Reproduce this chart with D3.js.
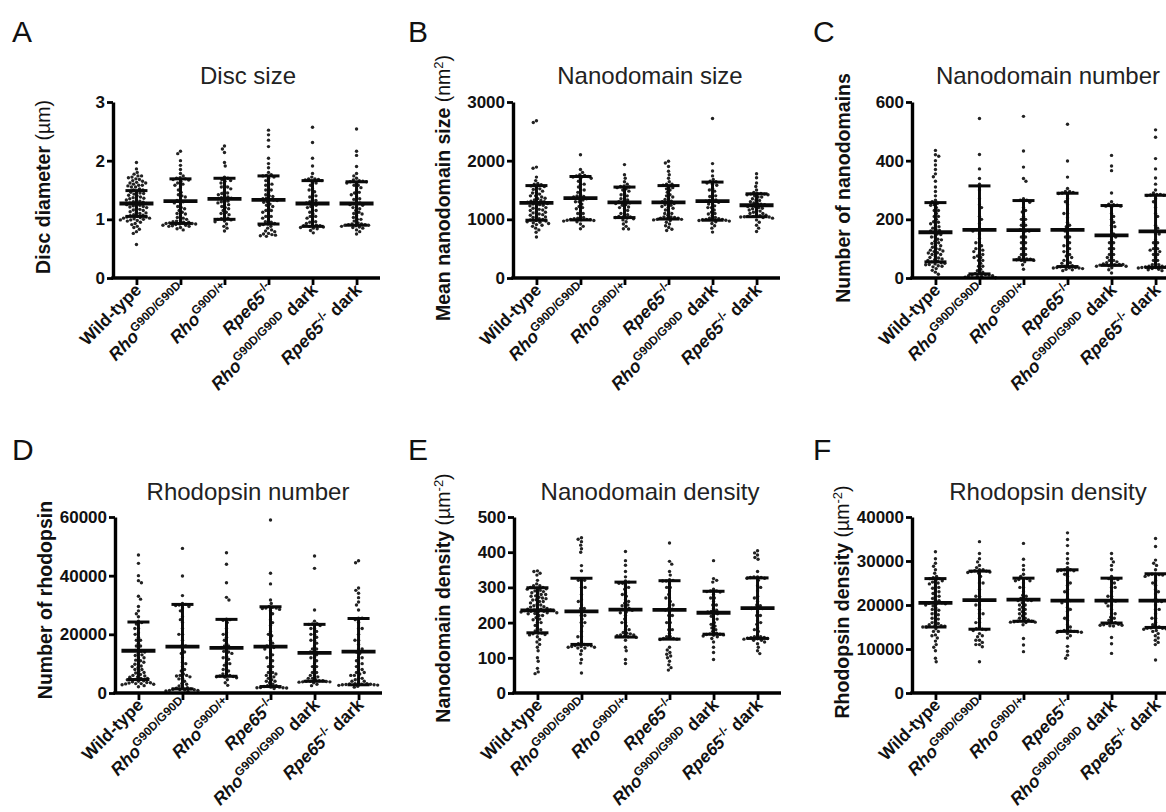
<!DOCTYPE html>
<html><head><meta charset="utf-8">
<script src="https://cdn.jsdelivr.net/npm/d3@7"></script>
<style>body{margin:0;background:#fff}svg{display:block;font-family:"Liberation Sans",Arial,sans-serif}</style>
</head><body><svg id="c" width="1166" height="812"></svg>
<script>
// ---------- categories ----------
const categories = ["Wild-type","RhoG90D/G90D","RhoG90D/+","Rpe65-/-","RhoG90D/G90D dark","Rpe65-/- dark"];
const categoryParts = [
  [{t:"Wild-type"}],
  [{t:"Rho",i:1},{t:"G90D/G90D",s:1}],
  [{t:"Rho",i:1},{t:"G90D/+",s:1}],
  [{t:"Rpe65",i:1},{t:"-/-",s:1}],
  [{t:"Rho",i:1},{t:"G90D/G90D",s:1},{t:" dark"}],
  [{t:"Rpe65",i:1},{t:"-/-",s:1},{t:" dark"}]
];

// ---------- A: disc diameter (µm) ----------
const discTicks = [0,1,2,3];
const discMean = [1.27,1.31,1.35,1.33,1.27,1.27];
const discSD = [0.22,0.38,0.35,0.41,0.39,0.37];
const discValues = [
 [1.97,1.86,1.80,1.77,1.74,1.72,1.71,1.69,1.66,1.65,1.63,1.62,1.60,1.58,1.57,1.55,1.52,1.50,1.47,1.45,1.43,1.41,1.38,1.37,1.35,1.33,1.31,1.30,1.28,1.27,1.25,1.24,1.22,1.21,1.19,1.17,1.15,1.13,1.12,1.10,1.08,1.07,1.05,1.04,1.03,1.02,1.01,0.99,0.98,0.97,0.95,0.93,0.91,0.88,0.86,0.83,0.79,0.76,0.57,
  1.58,1.55,1.50,1.46,1.40,1.36,1.33,1.29,1.26,1.23,1.20,1.16,1.11,1.06,1.04,1.02,1.00,0.99,1.44,1.62,1.68,1.74],
 [2.16,2.12,2.00,1.92,1.85,1.78,1.74,1.71,1.69,1.67,1.65,1.62,1.58,1.55,1.50,1.46,1.42,1.38,1.34,1.30,1.26,1.22,1.18,1.15,1.12,1.09,1.06,1.03,1.00,0.98,0.96,0.95,0.94,0.93,0.92,0.91,0.90,0.89,0.88,0.86,0.84,0.82,
  1.70,1.68,1.60,1.40,1.32,1.28,1.20,1.10,1.02,0.97,0.95,0.93,0.92,0.90,0.88],
 [2.25,2.20,2.14,1.97,1.91,1.72,1.68,1.65,1.62,1.58,1.55,1.52,1.48,1.45,1.42,1.40,1.37,1.35,1.33,1.30,1.28,1.25,1.22,1.18,1.15,1.12,1.08,1.04,1.01,0.99,0.96,0.92,0.88,0.85,0.80,
  1.70,1.66,1.55,1.44,1.38,1.36,1.31,1.26,1.20,1.10,1.02,1.00,0.97],
 [2.52,2.44,2.35,2.24,2.04,1.95,1.88,1.80,1.76,1.74,1.70,1.66,1.62,1.58,1.54,1.50,1.46,1.42,1.39,1.36,1.34,1.32,1.29,1.26,1.22,1.19,1.15,1.12,1.09,1.05,1.02,0.99,0.96,0.93,0.91,0.88,0.85,0.82,0.79,0.76,0.74,0.72,0.71,
  1.75,1.72,1.60,1.50,1.40,1.35,1.33,1.30,1.24,1.15,1.05,0.95,0.92,0.90,0.80,0.75,0.73],
 [2.57,2.31,2.04,1.91,1.78,1.72,1.69,1.68,1.66,1.63,1.58,1.52,1.47,1.42,1.38,1.34,1.30,1.27,1.24,1.20,1.16,1.12,1.09,1.05,1.02,0.99,0.96,0.93,0.91,0.89,0.88,0.86,0.84,0.81,0.77,
  1.69,1.67,1.62,1.50,1.40,1.32,1.28,1.22,1.15,1.05,0.95,0.90,0.89,0.87,0.85],
 [2.54,2.16,2.09,1.90,1.78,1.74,1.70,1.67,1.65,1.64,1.62,1.58,1.54,1.50,1.46,1.42,1.38,1.34,1.30,1.27,1.24,1.21,1.18,1.15,1.12,1.09,1.06,1.03,1.00,0.97,0.94,0.92,0.91,0.90,0.89,0.87,0.85,0.82,0.79,0.75,
  1.66,1.64,1.63,1.58,1.45,1.35,1.28,1.25,1.20,1.10,1.00,0.92,0.91,0.90,0.88,0.86]
];

// ---------- B: mean nanodomain size (nm²) ----------
const sizeTicks = [0,1000,2000,3000];
const sizeMean = [1280,1360,1290,1290,1310,1240];
const sizeSD = [295,370,260,285,325,195];
const sizeValues = [
 [2680,2650,1890,1870,1720,1660,1610,1590,1570,1540,1510,1480,1460,1430,1400,1380,1350,1330,1310,1290,1270,1250,1230,1210,1190,1170,1150,1130,1110,1090,1070,1050,1030,1010,990,970,950,930,910,880,850,820,780,700,
  1600,1560,1520,1450,1400,1360,1320,1300,1280,1260,1240,1200,1160,1120,1080,1040,1000,980,960,940,900],
 [2100,1850,1800,1760,1740,1720,1700,1650,1600,1550,1500,1460,1420,1390,1360,1330,1300,1260,1220,1180,1140,1100,1060,1030,1010,1000,990,980,960,920,880,840,
  1750,1730,1700,1600,1500,1400,1380,1350,1300,1200,1100,1020,1000,995,985,970],
 [1933,1760,1700,1640,1600,1570,1550,1520,1480,1440,1400,1360,1330,1300,1270,1240,1210,1180,1150,1110,1080,1050,1030,1010,990,960,920,880,840,835,
  1560,1540,1500,1420,1350,1300,1280,1250,1200,1100,1050,1040,1020],
 [1990,1960,1900,1820,1760,1700,1640,1600,1580,1540,1500,1460,1420,1380,1340,1310,1280,1250,1220,1190,1160,1130,1100,1070,1040,1020,1010,1000,980,950,920,890,860,830,810,
  1600,1560,1520,1400,1350,1300,1270,1240,1200,1100,1040,1030,1020,1000,990],
 [2720,1950,1825,1740,1680,1650,1620,1580,1530,1480,1430,1390,1350,1320,1290,1260,1230,1200,1160,1120,1090,1060,1030,1010,1000,990,980,960,930,890,850,782,
  1640,1600,1500,1400,1330,1310,1280,1200,1100,1020,1000,995,985,970],
 [1776,1708,1620,1560,1500,1460,1440,1430,1420,1400,1380,1350,1320,1300,1280,1260,1240,1220,1200,1180,1160,1140,1120,1100,1080,1060,1050,1040,1030,1020,990,950,900,850,792,
  1440,1430,1420,1380,1330,1270,1250,1220,1190,1150,1100,1070,1050,1045,1040]
];

// ---------- C: number of nanodomains ----------
const numTicks = [0,200,400,600];
const numMean = [156,164,163,164,145,159];
const numSD = [101,150,101,125,102,123];
const numValues = [
 [435,420,415,400,385,370,355,345,330,310,295,280,265,255,248,240,230,220,210,200,192,185,178,170,162,155,148,140,132,125,118,112,105,98,92,86,80,74,68,62,56,50,46,42,38,32,26,20,13,
  260,250,230,210,190,175,165,160,150,140,130,120,110,100,95,90,85,80,70,65,60,55,52,48,45,40],
 [544,421,372,339,300,270,240,210,185,170,165,150,135,120,110,100,95,90,80,75,70,60,50,40,30,20,15,10,8,5,3,1,
  320,250,200,165,160,120,100,85,70,60,40,25,15,12,10,8,5],
 [551,433,378,339,330,265,258,240,225,210,200,190,180,170,160,150,140,130,120,110,100,90,80,70,64,60,55,45,30,
  270,265,230,200,180,165,160,140,120,100,80,70,65,62,60],
 [524,399,344,305,295,290,285,270,250,235,220,205,190,175,160,150,140,130,120,110,100,90,80,70,60,52,45,40,36,34,32,30,28,25,
  295,292,288,260,220,180,165,140,110,90,75,60,50,42,38,36,35,34],
 [418,382,366,290,260,250,245,240,220,200,190,175,160,145,130,120,110,100,90,80,70,60,55,50,46,44,42,40,35,28,17,
  252,248,245,210,180,150,140,120,100,80,70,60,52,48,46,45,40],
 [505,480,407,372,341,320,300,290,285,282,280,270,240,210,180,150,130,120,110,100,95,90,80,70,60,50,45,40,38,36,34,32,30,28,25,
  285,283,281,260,220,170,150,120,100,90,80,60,45,40,38,36,35,34]
];

// ---------- D: number of rhodopsin ----------
const rhoNumTicks = [0,20000,40000,60000];
const rhoNumMean = [14400,15800,15400,15800,13700,14100];
const rhoNumSD = [9800,14400,9700,13600,9700,11300];
const rhoNumValues = [
 [47050,44200,40000,38300,37600,33000,32000,29500,28000,27000,26000,24500,23500,22000,20500,19000,18000,17000,16000,15000,14200,13500,12800,12000,11200,10500,9800,9200,8600,8000,7400,6800,6300,5800,5400,5000,4600,4200,3800,3500,3200,3000,2800,2500,2150,
  24000,22000,20000,18000,16000,14500,14000,13000,12000,11000,10000,9000,8000,7000,6000,5500,5000,4500,4000,3600,3400,3200,3100],
 [49300,39900,33200,30000,29500,29000,28000,26000,24000,22000,20000,18000,16500,15000,13500,12000,10500,9000,7500,6500,6000,5500,4800,4000,3200,2400,1800,1400,1100,900,700,500,
  30500,30200,29800,25000,20000,16000,14000,10000,8000,6000,5800,5000,3000,2000,1600,1300,1200,1000,900],
 [47800,43900,37600,32600,31700,25000,24000,22000,20500,19000,18000,17000,16000,15000,14200,13500,12500,11500,10500,9500,8500,7500,6500,6000,5600,5200,4500,3500,2600,
  25200,24800,20000,16000,15500,14000,12000,10000,8000,6500,5800,5500,5400],
 [59000,40800,37200,31700,30500,29500,29000,28500,27000,25000,23000,21000,19500,18000,17000,16000,15000,14000,13000,12000,11000,10000,9000,8000,7000,6500,6000,5500,5000,4500,4000,3500,3000,2500,2000,1800,1500,
  29200,29000,28800,28000,24000,20000,16000,15500,12000,9000,7000,6000,4000,2500,2200,2000,1900,1800,1700],
 [46700,42500,28300,24500,23500,23000,22000,21000,20000,19000,18000,17000,16000,15000,14000,13000,12000,11000,10000,9000,8000,7000,6000,5500,5000,4500,4200,4000,3800,3500,3000,2500,
  23600,23400,22000,20000,18000,15000,14000,12000,9000,7000,6000,5000,4200,4000,3900,3800,3700],
 [45100,44400,35800,35000,34000,32500,31000,30000,28300,25500,24000,22000,20000,18000,16500,15000,13500,12000,11000,10000,9000,8000,7000,6500,6000,5000,4500,4000,3500,3200,3000,2800,2600,2300,2000,
  25500,25000,22000,18000,15000,14000,12000,10000,8000,7000,6000,5000,4000,3200,3100,3000,2900,2800,2700]
];

// ---------- E: nanodomain density (µm⁻²) ----------
const ndDensTicks = [0,100,200,300,400,500];
const ndDensMean = [235,232,237,236,228,241];
const ndDensSD = [64,94,78,83,61,86];
const ndDensValues = [
 [347,345,340,335,320,310,305,300,296,292,288,284,280,276,272,268,264,260,256,252,248,244,240,238,236,234,232,230,228,225,220,214,208,200,192,184,176,170,166,160,152,145,138,130,120,100,90,70,60,55,
  305,300,298,295,290,285,280,275,270,265,260,250,245,240,238,236,234,232,230,228,226,220,210,200,180,170,168,165],
 [441,437,430,420,410,400,362,347,320,300,280,265,250,240,230,220,210,200,190,175,160,145,138,135,132,130,128,120,110,95,85,57,
  325,320,300,260,240,232,220,200,160,140,136,134,132,130,128],
 [402,376,363,345,330,318,312,305,295,285,275,265,255,248,240,235,228,220,210,200,190,180,172,168,165,162,158,150,130,120,95,84,
  315,312,300,280,260,250,240,237,230,200,180,170,165,163,160],
 [426,374,366,345,335,322,318,310,300,290,280,270,260,250,240,230,220,210,200,190,180,170,160,155,152,130,122,115,110,105,100,90,80,72,65,
  320,318,300,270,250,238,236,220,200,180,160,155,153],
 [376,325,320,315,295,290,287,280,270,260,250,240,232,225,218,210,200,195,185,175,170,167,165,162,155,145,130,115,95,
  290,288,270,250,235,230,225,210,190,180,168,166,164,160],
 [404,398,392,385,380,345,330,328,326,320,305,290,275,260,248,240,230,220,205,195,185,175,165,160,157,155,153,150,145,140,130,120,112,
  330,328,326,300,270,250,241,240,220,200,180,160,158,156,154,150]
];

// ---------- F: rhodopsin density (µm⁻²) ----------
const rhoDensTicks = [0,10000,20000,30000,40000];
const rhoDensMean = [20500,21100,21200,21000,21000,21000];
const rhoDensSD = [5500,6600,4900,7000,5100,6100];
const rhoDensValues = [
 [32100,30500,29500,28800,28000,27200,26500,26000,25600,25200,24800,24300,23800,23200,22600,22000,21500,21000,20600,20200,19800,19300,18800,18300,17800,17300,16800,16300,15800,15400,15000,14600,14000,13200,12500,11800,11000,10400,9600,7900,7100,
  26200,26000,25500,25000,24000,23000,22000,21000,20500,20400,20300,20000,19000,18000,17000,16000,15500,15300,15200,15000,14000,13000],
 [34400,31700,30500,29800,29000,28500,28000,27700,27500,27200,26500,25000,23500,22000,21000,20000,19000,18000,17000,16000,15000,14500,14200,13500,12800,12000,11500,11000,10500,7100,
  28000,27800,27600,27400,25000,22000,21100,20000,18000,16000,14600,14400,13000,12000,11000],
 [34000,30400,29000,28000,27000,26500,26000,25500,25000,24000,23000,22200,21500,21000,20500,20000,19500,19000,18500,18000,17500,17000,16600,16300,16100,16000,15500,12400,10900,9400,
  26000,25800,25500,24000,22000,21200,21100,21000,20000,19000,18000,17000,16400,16300,16200,16100],
 [36400,34900,33500,31700,30500,29500,28500,28000,27800,27500,26500,25500,24500,23500,22500,21500,20500,19500,18500,17500,16500,15500,14500,14200,14000,13800,13500,12500,10600,9500,8600,7900,
  28000,27900,27700,27000,25000,23000,21000,20900,19000,17000,15000,14100,14000,13900,13800,13000],
 [31700,30500,29800,29000,28000,26500,26000,25500,25000,24000,23000,22000,21200,20500,19800,19000,18000,17200,16500,16000,15800,15600,15400,15200,12600,11200,9000,
  26000,25800,24000,22000,21000,20900,20000,18000,17000,16000,15500,15400,15300],
 [35100,33300,30200,29500,29000,28000,27000,26800,26500,25500,24500,23500,22500,21500,20800,20000,19000,18000,17000,16000,15500,15000,14700,14500,14200,13500,13000,12500,12000,11500,11000,7500,
  27000,26900,26800,25000,23000,21000,20900,19000,17000,15000,14800,14700,14600,14500,14000]
];

// ---------- panel text ----------
const panelLetters = ["A","B","C","D","E","F"];
const panelTitles = ["Disc size","Nanodomain size","Nanodomain number","Rhodopsin number","Nanodomain density","Rhodopsin density"];
const yLabels = [
  [{t:"Disc diameter "},{t:"(\u00b5m)",n:1}],
  [{t:"Mean nanodomain size "},{t:"(nm",n:1},{t:"2",s:1,n:1},{t:")",n:1}],
  [{t:"Number of nanodomains"}],
  [{t:"Number of rhodopsin"}],
  [{t:"Nanodomain density "},{t:"(\u00b5m",n:1},{t:"-2",s:1,n:1},{t:")",n:1}],
  [{t:"Rhodopsin density "},{t:"(\u00b5m",n:1},{t:"-2",s:1,n:1},{t:")",n:1}]
];

// ---------- layout (positions only) ----------
const W = 265, H = 176;
const layout = [
  {ax:113, y0:278, lx:12,  ly:42,  tx:248,  ty:84,  yx:43,  yy:187},
  {ax:513, y0:278, lx:408, ly:42,  tx:650,  ty:84,  yx:443, yy:188},
  {ax:912, y0:278, lx:813, ly:42,  tx:1048, ty:84,  yx:843, yy:188},
  {ax:115, y0:693, lx:12,  ly:460, tx:248,  ty:500, yx:45,  yy:600},
  {ax:514, y0:693, lx:408, ly:460, tx:650,  ty:500, yx:443, yy:598},
  {ax:912, y0:693, lx:813, ly:460, tx:1048, ty:500, yx:842, yy:602}
];
const panelData = [
  {vals:discValues, mean:discMean, sd:discSD, ticks:discTicks},
  {vals:sizeValues, mean:sizeMean, sd:sizeSD, ticks:sizeTicks},
  {vals:numValues, mean:numMean, sd:numSD, ticks:numTicks},
  {vals:rhoNumValues, mean:rhoNumMean, sd:rhoNumSD, ticks:rhoNumTicks},
  {vals:ndDensValues, mean:ndDensMean, sd:ndDensSD, ticks:ndDensTicks},
  {vals:rhoDensValues, mean:rhoDensMean, sd:rhoDensSD, ticks:rhoDensTicks}
];

const svg = d3.select("#c");
const R = 1.7;

function swarm(vals, y) {
  const D = 2*R + 0.2;
  const pts = vals.map(v => ({v, y:y(v)})).sort((a,b)=>a.y-b.y);
  const placed = [];
  pts.forEach((p, k) => {
    const ivs = [];
    placed.forEach(q => {
      const dy = Math.abs(q.y - p.y);
      if (dy < D) { const w = Math.sqrt(D*D - dy*dy); ivs.push([q.x - w, q.x + w]); }
    });
    const cands = [0];
    ivs.forEach(iv => { cands.push(iv[0], iv[1]); });
    const ok = c => ivs.every(iv => c <= iv[0] + 1e-6 || c >= iv[1] - 1e-6);
    let best = null;
    cands.filter(ok).forEach(c => {
      if (best === null || Math.abs(c) < Math.abs(best) - 1e-6 ||
          (Math.abs(Math.abs(c) - Math.abs(best)) < 1e-6 && (k % 2 ? c < best : c > best))) best = c;
    });
    p.x = best;
    placed.push(p);
  });
  return pts;
}

function richText(sel, parts, supSize) {
  parts.forEach(p => {
    const ts = sel.append("tspan").text(p.t);
    if (p.i) ts.attr("font-style", "italic");
    if (p.n) ts.attr("font-weight", "normal");
    if (p.s) ts.attr("font-size", supSize).attr("baseline-shift", "super");
  });
}

layout.forEach((L, pi) => {
  const d = panelData[pi];
  const ticks = d.ticks;
  const y = d3.scaleLinear().domain([0, ticks[ticks.length-1]]).range([L.y0, L.y0 - H]);
  const x = d3.scalePoint().domain(categories).range([L.ax + 1, L.ax + W + 1]).padding(0.51);
  const g = svg.append("g");

  svg.append("text").attr("x", L.lx).attr("y", L.ly).attr("font-size", 30).attr("fill", "#111").text(panelLetters[pi]);
  svg.append("text").attr("x", L.tx).attr("y", L.ty).attr("text-anchor", "middle").attr("font-size", 24).attr("fill", "#222").text(panelTitles[pi]);

  const yl = svg.append("text").attr("transform", `translate(${L.yx},${L.yy}) rotate(-90)`)
    .attr("text-anchor", "middle").attr("dy", "0.35em").attr("font-size", 19.5).attr("font-weight", "bold").attr("fill", "#111");
  richText(yl, yLabels[pi], 13);

  categories.forEach((c, ci) => {
    const pts = swarm(d.vals[ci], y);
    g.append("g").selectAll("circle").data(pts).join("circle")
      .attr("cx", p => x(c) + p.x).attr("cy", p => p.y).attr("r", R).attr("fill", "#222");
  });

  categories.forEach((c, ci) => {
    const cx = x(c), m = d.mean[ci], s = d.sd[ci];
    const lo = Math.max(0, m - s), hi = m + s;
    const eb = g.append("g").attr("stroke", "#0a0a0a");
    eb.append("line").attr("x1", cx).attr("x2", cx).attr("y1", y(lo)).attr("y2", y(hi)).attr("stroke-width", 3);
    eb.append("line").attr("x1", cx - 11).attr("x2", cx + 11).attr("y1", y(hi)).attr("y2", y(hi)).attr("stroke-width", 3);
    eb.append("line").attr("x1", cx - 11).attr("x2", cx + 11).attr("y1", y(lo)).attr("y2", y(lo)).attr("stroke-width", 3);
    eb.append("line").attr("x1", cx - 17).attr("x2", cx + 17).attr("y1", y(m)).attr("y2", y(m)).attr("stroke-width", 3.8);
  });

  const yAxis = g.append("g").attr("transform", `translate(${L.ax},0)`)
    .call(d3.axisLeft(y).tickValues(ticks).tickSize(6).tickSizeOuter(0).tickPadding(2).tickFormat(d3.format("d")));
  const xAxis = g.append("g").attr("transform", `translate(0,${L.y0})`)
    .call(d3.axisBottom(x).tickSize(7).tickSizeOuter(0).tickFormat(""));
  [yAxis, xAxis].forEach(a => {
    a.select(".domain").attr("stroke", "#000").attr("stroke-width", 3.4);
    a.selectAll(".tick line").attr("stroke", "#000").attr("stroke-width", 2.8);
  });
  yAxis.selectAll(".tick text").attr("font-size", 17).attr("font-weight", "bold").attr("fill", "#111")
    .attr("font-family", '"Liberation Sans",Arial,sans-serif');
  xAxis.select(".domain").attr("d", `M${L.ax - 1.7},0H${L.ax + W + 2}`);

  categories.forEach((c, ci) => {
    const t = svg.append("text").attr("transform", `translate(${x(c) + 6},${L.y0 + 13}) rotate(-45)`)
      .attr("text-anchor", "end").attr("font-size", 17.5).attr("font-weight", "bold").attr("fill", "#111");
    richText(t, categoryParts[ci], 12);
  });
});
</script></body></html>
